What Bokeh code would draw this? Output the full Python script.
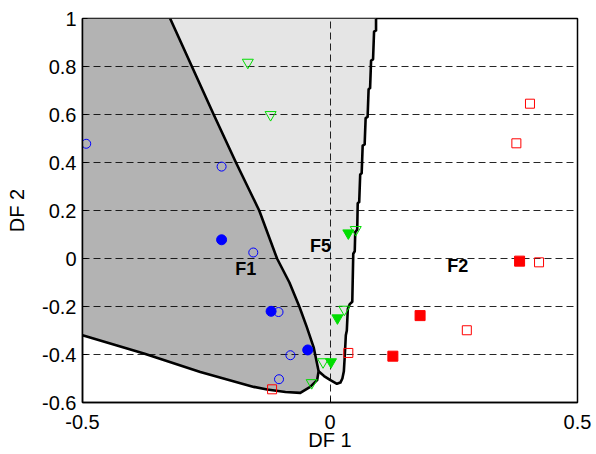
from bokeh.plotting import figure
from bokeh.models import FixedTicker, Range1d
from bokeh.core.properties import value
from bokeh.embed import file_html
from bokeh.resources import INLINE

# Axis ticks and labels
x_ticks = [-0.5, 0.0, 0.5]
x_tick_labels = ["-0.5", "0", "0.5"]
y_ticks = [-0.6, -0.4, -0.2, 0.0, 0.2, 0.4, 0.6, 0.8, 1.0]
y_tick_labels = ["-0.6", "-0.4", "-0.2", "0", "0.2", "0.4", "0.6", "0.8", "1"]

# Decision boundary F1 | F5 (top to bottom)
f1_f5_x = [-0.323, -0.279, -0.235, -0.190, -0.143, -0.107, -0.082, -0.062, -0.047, -0.033, -0.023]
f1_f5_y = [1.0, 0.8, 0.6, 0.4, 0.2, 0.0, -0.1, -0.2, -0.285, -0.37, -0.47]

# Decision boundary F1 | F2 (left to right)
f1_f2_x = [-0.5, -0.376, -0.262, -0.154, -0.127, -0.090, -0.060, -0.040, -0.026, -0.023]
f1_f2_y = [-0.32, -0.396, -0.473, -0.535, -0.546, -0.556, -0.560, -0.535, -0.507, -0.47]

# Decision boundary F5 | F2 (top to bottom)
f5_f2_x = [0.093, 0.093, 0.089, 0.087, 0.083, 0.081, 0.078, 0.076, 0.072, 0.070, 0.066,
           0.064, 0.061, 0.059, 0.056, 0.055, 0.051, 0.050, 0.047, 0.045, 0.040, 0.036,
           0.034, 0.032, 0.030, 0.028, 0.025, 0.021, 0.014, 0.000, -0.012, -0.023]
f5_f2_y = [1.0, 0.95, 0.945, 0.83, 0.825, 0.71, 0.705, 0.59, 0.585, 0.475, 0.47,
           0.355, 0.35, 0.235, 0.23, 0.12, 0.11, 0.03, 0.02, -0.18, -0.19, -0.21,
           -0.30, -0.32, -0.40, -0.47, -0.50, -0.517, -0.522, -0.506, -0.49, -0.47]

# Group F1 (blue circles)
f1_open_x = [-0.4925, -0.219, -0.155, -0.104, -0.080, -0.103]
f1_open_y = [0.478, 0.383, 0.025, -0.223, -0.403, -0.503]
f1_fill_x = [-0.219, -0.119, -0.045]
f1_fill_y = [0.078, -0.220, -0.381]

# Group F5 (green triangles)
f5_open_x = [-0.166, -0.120, 0.052, 0.029, -0.014, -0.037]
f5_open_y = [0.817, 0.599, 0.120, -0.212, -0.431, -0.518]
f5_fill_x = [0.037, 0.015, 0.002]
f5_fill_y = [0.106, -0.248, -0.431]

# Group F2 (red squares)
f2_open_x = [0.404, 0.3765, 0.4223, 0.2764, 0.037, -0.117]
f2_open_y = [0.645, 0.480, -0.016, -0.299, -0.3935, -0.545]
f2_fill_x = [0.383, 0.182, 0.127]
f2_fill_y = [-0.011, -0.238, -0.407]

# Region labels
region_names = ["F1", "F5", "F2"]
region_x = [-0.170, -0.019, 0.258]
region_y = [-0.045, 0.052, -0.031]

FONT = "Liberation Sans"
BLUE = "#0000ff"
GREEN = "#00dd00"
RED = "#ff0000"

p = figure(width=596, height=454,
           x_range=Range1d(-0.5, 0.5), y_range=Range1d(-0.6, 1.0),
           output_backend="svg", toolbar_location=None,
           min_border_left=82, min_border_right=19,
           min_border_top=18, min_border_bottom=52)

p.background_fill_color = "white"
p.outline_line_color = "black"
p.outline_line_width = 1.5

# Filled regions, kept beneath the grid
f1_poly_x = [-0.5] + f1_f5_x + f1_f2_x[::-1]
f1_poly_y = [1.0] + f1_f5_y + f1_f2_y[::-1]
f5_poly_x = f1_f5_x + f5_f2_x[::-1]
f5_poly_y = f1_f5_y + f5_f2_y[::-1]

r1 = p.patch(f1_poly_x, f1_poly_y, fill_color="#b3b3b3", line_color=None)
r2 = p.patch(f5_poly_x, f5_poly_y, fill_color="#e5e5e5", line_color=None)
r1.level = "image"
r2.level = "image"

# Boundary lines
for bx, by in [(f1_f5_x, f1_f5_y), (f1_f2_x, f1_f2_y), (f5_f2_x, f5_f2_y)]:
    p.line(bx, by, line_color="black", line_width=2.6, line_join="round")

# Observations
p.scatter(f1_open_x, f1_open_y, marker="circle", size=9, fill_color=None,
          line_color=BLUE, line_width=1)
p.scatter(f1_fill_x, f1_fill_y, marker="circle", size=10, fill_color=BLUE,
          line_color=BLUE, line_width=1)
p.scatter(f5_open_x, f5_open_y, marker="inverted_triangle", size=11, fill_color=None,
          line_color=GREEN, line_width=1)
p.scatter(f5_fill_x, f5_fill_y, marker="inverted_triangle", size=11, fill_color=GREEN,
          line_color=GREEN, line_width=1)
p.scatter(f2_open_x, f2_open_y, marker="square", size=9, fill_color=None,
          line_color=RED, line_width=1)
p.scatter(f2_fill_x, f2_fill_y, marker="square", size=10, fill_color=RED,
          line_color=RED, line_width=1)

p.text(region_x, region_y, text=region_names, text_font=value(FONT),
       text_font_style="bold", text_font_size="18px",
       text_align="center", text_baseline="middle", text_color="black")

# Axes
xa = p.xaxis[0]
ya = p.yaxis[0]
xa.ticker = FixedTicker(ticks=x_ticks)
ya.ticker = FixedTicker(ticks=y_ticks)
xa.major_label_overrides = dict(zip(x_ticks, x_tick_labels))
ya.major_label_overrides = dict(zip(y_ticks, y_tick_labels))
xa.axis_label = "DF 1"
ya.axis_label = "DF 2"
for ax, lab_std, tick_std in [(xa, -3, 12), (ya, 11, 6)]:
    ax.axis_label_text_font = FONT
    ax.axis_label_text_font_size = "20px"
    ax.axis_label_text_font_style = "normal"
    ax.axis_label_text_color = "black"
    ax.axis_label_standoff = lab_std
    ax.major_label_text_font = FONT
    ax.major_label_text_font_size = "20px"
    ax.major_label_text_color = "black"
    ax.major_label_standoff = tick_std
    ax.major_tick_in = 5
    ax.major_tick_out = 0
    ax.major_tick_line_color = "black"
    ax.minor_tick_line_color = None
    ax.axis_line_color = "black"
    ax.axis_line_width = 1.5

# Dashed grid
for g in (p.xgrid[0], p.ygrid[0]):
    g.grid_line_color = "black"
    g.grid_line_alpha = 0.85
    g.grid_line_width = 1
    g.grid_line_dash = "7 4"

open("out.html", "w").write(file_html(p, INLINE))
